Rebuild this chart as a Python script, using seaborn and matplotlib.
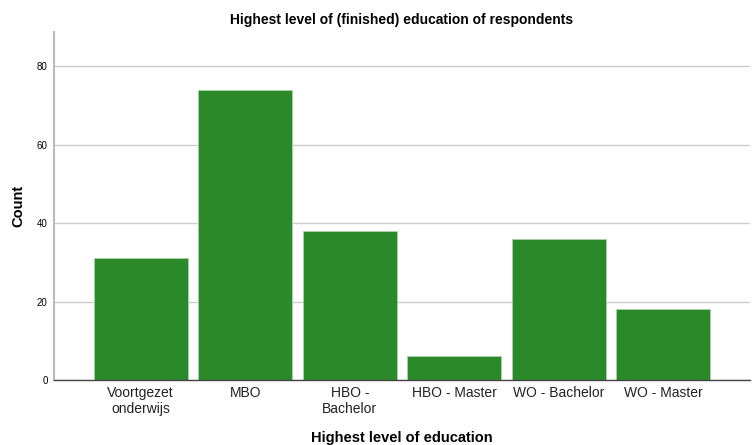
import matplotlib
matplotlib.use("Agg")
from matplotlib import pyplot as plt
import seaborn as sns
import pandas as pd

# education levels and counts
levels = ["Voortgezet\nonderwijs", "MBO", "HBO -\nBachelor", "HBO - Master", "WO - Bachelor", "WO - Master"]
counts = [31, 74, 38, 6, 36, 18]

df = pd.DataFrame({"level": levels, "count": counts})

sns.set_style("white")
plt.rcParams['font.family'] = ['Liberation Sans', 'DejaVu Sans']
plt.rcParams['text.color'] = 'black'
plt.rcParams['axes.labelcolor'] = 'black'

fig = plt.figure(figsize=(7.55, 4.45), dpi=100)
ax = fig.add_axes([0.0715, 0.146, 0.922, 0.782])

ax.yaxis.grid(True, color="#cccccc", linewidth=1)
ax.set_axisbelow(True)
sns.barplot(data=df, x="level", y="count", color="#2a8a2a", saturation=1,
            width=0.9, edgecolor="#a8d4a8", linewidth=0.6, ax=ax)

ax.set_ylim(0, 88.7)
ax.set_xlim(-0.83, 5.83)
ax.set_yticks([0, 20, 40, 60, 80])
ax.tick_params(axis="y", labelsize=7, length=0, pad=4.5, colors="black")
ax.tick_params(axis="x", labelsize=10, length=0, pad=4, colors="#222222")

for s in ["top", "right"]:
    ax.spines[s].set_visible(False)
ax.spines["left"].set_color("#bbbbbb")
ax.spines["left"].set_linewidth(1.5)
ax.spines["bottom"].set_color("#444444")
ax.spines["bottom"].set_linewidth(1)

ax.set_title("Highest level of (finished) education of respondents", fontsize=10,
             fontweight="bold", pad=6)
ax.set_xlabel("Highest level of education", fontsize=10.5, fontweight="bold", labelpad=11)
ax.set_ylabel("Count", fontsize=10.5, fontweight="bold", labelpad=8)

fig.savefig("out.png", dpi=100)
